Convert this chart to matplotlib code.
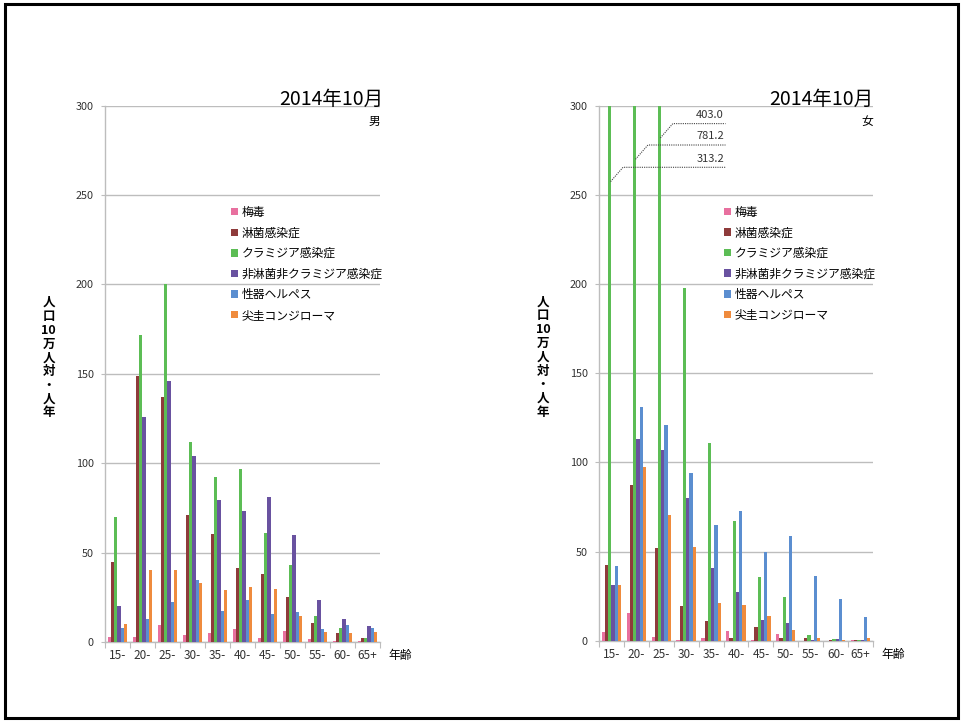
import matplotlib
matplotlib.use("Agg")
import matplotlib.pyplot as plt
from matplotlib.patches import Rectangle, Patch
import numpy as np

plt.rcParams['font.family'] = ['Noto Sans CJK JP', 'DejaVu Sans']

# 年齢階級
ages = ["15-", "20-", "25-", "30-", "35-", "40-", "45-", "50-", "55-", "60-", "65+"]
diseases = ["梅毒", "淋菌感染症", "クラミジア感染症", "非淋菌非クラミジア感染症", "性器ヘルペス", "尖圭コンジローマ"]
colors = ["#E8709F", "#8E3B3B", "#5CBD55", "#6952A0", "#5B8ED0", "#EF8B3D"]

# 男 (人口10万人対・人年)
male_syphilis = [2.6, 2.8, 9.3, 4.0, 5.0, 7.4, 2.2, 6.3, 1.9, 0.3, 0.7]
male_gonorrhea = [45, 149, 137, 71.3, 60.6, 41.5, 37.8, 25, 10.9, 4.8, 2.0]
male_chlamydia = [70, 172, 200, 112, 92.5, 97, 61, 43.3, 14.6, 7.8, 2.0]
male_ngnc = [20, 126, 146, 104, 79.4, 73.5, 81, 60, 23.5, 12.6, 8.9]
male_herpes = [7.8, 12.8, 22.6, 34.6, 17.6, 23.3, 15.7, 16.7, 7.4, 9.4, 7.6]
male_condyloma = [10, 40.5, 40.5, 33, 28.9, 30.7, 29.8, 14.6, 5.6, 4.8, 5.7]

# 女 (人口10万人対・人年)
female_syphilis = [4.9, 15.4, 2.1, 0.5, 1.3, 5.4, 0.3, 3.9, 0.0, 0.0, 0.3]
female_gonorrhea = [42.3, 87.6, 52.2, 19.3, 11.2, 1.7, 7.9, 1.7, 1.3, 0.2, 0.2]
female_chlamydia = [313.2, 781.2, 403.0, 198, 110.7, 67.4, 35.6, 24.5, 3.4, 1.1, 0.3]
female_ngnc = [31.5, 113, 106.9, 80.1, 40.6, 27.2, 11.8, 9.9, 0.3, 1.1, 0.4]
female_herpes = [42.1, 131.2, 120.8, 94, 65.2, 72.8, 49.6, 59, 36.5, 23.6, 13.1]
female_condyloma = [31.5, 97.5, 70.6, 52.8, 21.2, 19.9, 13.7, 6.0, 1.7, 0.2, 1.3]

male = [male_syphilis, male_gonorrhea, male_chlamydia, male_ngnc, male_herpes, male_condyloma]
female = [female_syphilis, female_gonorrhea, female_chlamydia, female_ngnc, female_herpes, female_condyloma]

YMAX = 300
W = 0.13
x = np.arange(len(ages))
grid_c = "#BDBDBD"


def draw_panel(ax, series, sex):
    for k, vals in enumerate(series):
        ax.bar(x + (k - 2.5) * W, vals, width=W, color=colors[k], linewidth=0, zorder=3)
    ax.set_xlim(-0.5, len(ages) - 0.5)
    ax.set_ylim(0, YMAX)
    ax.set_yticks(np.arange(0, YMAX + 1, 50))
    ax.yaxis.grid(True, color=grid_c, linewidth=1.0, zorder=0)
    ax.set_axisbelow(True)
    for s in ["top", "right"]:
        ax.spines[s].set_visible(False)
    for s in ["left", "bottom"]:
        ax.spines[s].set_color(grid_c)
        ax.spines[s].set_linewidth(1.0)
    # category boundaries carry the tick marks, labels sit at the centres
    ax.set_xticks(np.arange(-0.5, len(ages), 1.0))
    ax.set_xticklabels([])
    ax.set_xticks(x, minor=True)
    ax.set_xticklabels(ages, minor=True, fontsize=8.5, color="#333333")
    ax.tick_params(axis="x", which="major", direction="out", length=4, color=grid_c)
    ax.tick_params(axis="x", which="minor", length=0, pad=5)
    ax.tick_params(axis="y", direction="out", length=3, color=grid_c, labelsize=7.8,
                   labelcolor="#333333", pad=5)
    handles = [Patch(facecolor=c, edgecolor="none") for c in colors]
    ax.legend(handles, diseases, loc="upper left", bbox_to_anchor=(0.44, 0.822),
              frameon=False, fontsize=8.5, handlelength=0.6, handleheight=0.6,
              handletextpad=0.3, labelspacing=0.64, borderaxespad=0)
    ax.text(1.0, 0.97, sex, transform=ax.transAxes, ha="right", va="center", fontsize=8.5)
    ax.text(1.03, -0.025, "年齢", transform=ax.transAxes, ha="left", va="center", fontsize=8.5)
    ax.text(-0.205, 0.53, "人\n口\n10\n万\n人\n対\n・\n人\n年", transform=ax.transAxes,
            ha="center", va="center", fontsize=9, fontweight="bold", linespacing=1.08)


fig = plt.figure(figsize=(9.63, 7.22), dpi=100)
ax1 = fig.add_axes([0.109, 0.1108, 0.2856, 0.7428])
ax2 = fig.add_axes([0.622, 0.1125, 0.2845, 0.7410])
draw_panel(ax1, male, "男")
draw_panel(ax2, female, "女")

fig.text(0.398, 0.855, "2014年10月", ha="right", va="baseline", fontsize=14)
fig.text(0.907, 0.855, "2014年10月", ha="right", va="baseline", fontsize=14)

# truncated chlamydia bars in the female panel: leader lines to their values
levels = [265.5, 278, 290]
for i, lvl in enumerate(levels):
    x0 = x[i] - 0.5 * W + 0.03
    ax2.plot([x0, x0 + 0.5, 4.58], [lvl - 8, lvl, lvl], color="#444444",
             linestyle=(0, (1, 1)), linewidth=0.8, zorder=4, clip_on=False)
    ax2.text(4.52, lvl + 2.0, f"{female_chlamydia[i]:.1f}", ha="right", va="bottom",
             fontsize=8, color="#333333")

# outer frame
fig.patches.append(Rectangle((0.0055, 0.0055), 0.989, 0.9885, transform=fig.transFigure,
                             fill=False, edgecolor="black", linewidth=2.2))

fig.savefig("out.png", dpi=100, facecolor="white")
